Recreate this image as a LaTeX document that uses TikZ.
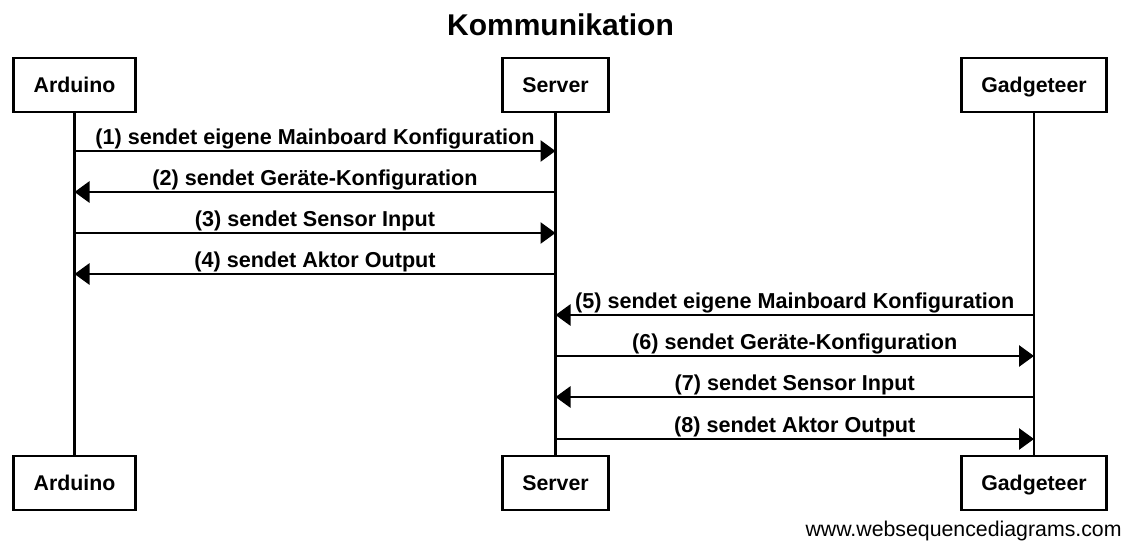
\documentclass[tikz,border=0pt]{standalone}
\usepackage{fontspec}
\setmainfont{Liberation Sans}
\usetikzlibrary{arrows.meta}

\begin{document}
\begin{tikzpicture}[x=1pt, y=-1pt, line width=2.8pt,
		actor/.style={draw, rectangle, minimum height=54pt, inner xsep=20pt, text height=15pt, text depth=0pt, font=\fontsize{21.3}{25}\selectfont\bfseries},
		msg/.style={midway, above, inner sep=1pt, font=\fontsize{21.6}{25}\selectfont\bfseries},
		>={Triangle[length=15pt, width=21pt]}]
				\useasboundingbox (0,0) rectangle (1133,543);
				\node[font=\fontsize{30}{36}\selectfont\bfseries, anchor=base] (T)at(560.5, 36) {Kommunikation};
				\node[actor] (A)at(74.5, 85) {Arduino};
				\node[actor] (S)at(555.5, 85) {Server};
				\node[actor] (G)at(1034, 85) {Gadgeteer};
				\node[actor] (AE)at(74.5, 483) {Arduino};
				\node[actor] (SE)at(555.5, 483) {Server};
				\node[actor] (GE)at(1034, 483) {Gadgeteer};
				\node[anchor=base east, inner sep=0pt, font=\fontsize{21.3}{25}\selectfont] (W)at(1123, 536) {www.websequencediagrams.com};
				\draw (A) -- (AE);
				\draw (S) -- (SE);
				\draw (G) -- (GE);
				\draw[->] (A |- 0,151) -- (S |- 0,151) node[msg] {(1) sendet eigene Mainboard Konfiguration};
				\draw[->] (S |- 0,192) -- (A |- 0,192) node[msg] {(2) sendet Geräte-Konfiguration};
				\draw[->] (A |- 0,233) -- (S |- 0,233) node[msg] {(3) sendet Sensor Input};
				\draw[->] (S |- 0,274) -- (A |- 0,274) node[msg] {(4) sendet Aktor Output};
				\draw[->] (G |- 0,315) -- (S |- 0,315) node[msg] {(5) sendet eigene Mainboard Konfiguration};
				\draw[->] (S |- 0,356) -- (G |- 0,356) node[msg] {(6) sendet Geräte-Konfiguration};
				\draw[->] (G |- 0,397) -- (S |- 0,397) node[msg] {(7) sendet Sensor Input};
				\draw[->] (S |- 0,439) -- (G |- 0,439) node[msg] {(8) sendet Aktor Output};
			\end{tikzpicture}
\end{document}
